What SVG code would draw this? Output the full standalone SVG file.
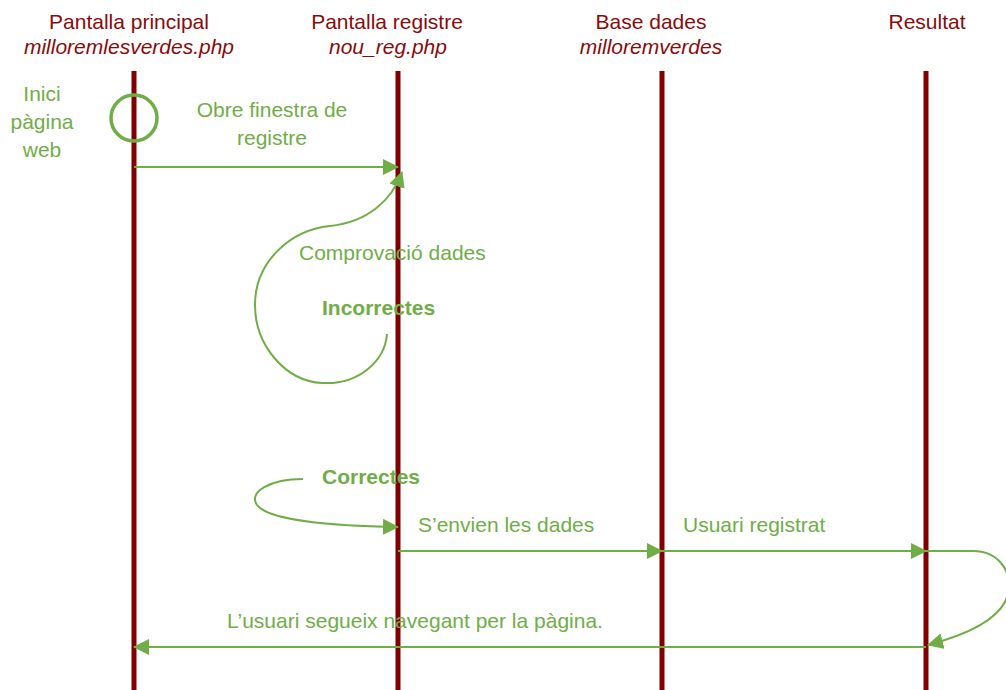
<svg xmlns="http://www.w3.org/2000/svg" width="1006" height="690" viewBox="0 0 1006 690">
<style>
.hd{font-family:"Liberation Sans",Arial,sans-serif;font-size:21px;fill:#8b0a0a;text-anchor:middle}
.it{font-style:italic}
.gt{font-family:"Liberation Sans",Arial,sans-serif;font-size:21px;fill:#70ad47}
.b{font-weight:bold}
.life{stroke:#800000;stroke-width:5}
.con{fill:none;stroke:#70ad47;stroke-width:2}
</style>
<defs>
<marker id="ah" markerUnits="userSpaceOnUse" markerWidth="16" markerHeight="16" refX="15" refY="8" orient="auto">
<path d="M0,0 L16,8 L0,16 Z" fill="#70ad47"/>
</marker>
</defs>
<rect width="1006" height="690" fill="#fff"/>
<g id="lifeline-principal">
<line class="life" x1="134" y1="71" x2="134" y2="690"/>
<text class="hd" x="129" y="29">Pantalla principal</text>
<text class="hd it" x="129" y="54">milloremlesverdes.php</text>
</g>
<g id="lifeline-registre">
<line class="life" x1="398" y1="71" x2="398" y2="690"/>
<text class="hd" x="387" y="29">Pantalla registre</text>
<text class="hd it" x="388" y="54">nou_reg.php</text>
</g>
<g id="lifeline-bd">
<line class="life" x1="662" y1="71" x2="662" y2="690"/>
<text class="hd" x="651" y="29">Base dades</text>
<text class="hd it" x="651" y="54">milloremverdes</text>
</g>
<g id="lifeline-resultat">
<line class="life" x1="926" y1="71" x2="926" y2="690"/>
<text class="hd" x="927" y="29">Resultat</text>
</g>
<g id="start">
<circle cx="134" cy="118" r="23" fill="none" stroke="#70ad47" stroke-width="3.5"/>
<text class="gt" text-anchor="middle"><tspan x="42" y="101">Inici</tspan><tspan x="42" y="129">pàgina</tspan><tspan x="42" y="157">web</tspan></text>
</g>
<g id="connectors">
<line class="con" x1="134" y1="167" x2="398" y2="167" marker-end="url(#ah)"/>
<path class="con" d="M387,334 C385,360 360,385 322,383 C285,381 255,345 255,305 C255,262 290,230 330,226 C368,222 392,200 402,172" marker-end="url(#ah)"/>
<path class="con" d="M303,479 C270,479 248,492 257,505 C268,520 330,526 398,527" marker-end="url(#ah)"/>
<line class="con" x1="398" y1="551" x2="662" y2="551" marker-end="url(#ah)"/>
<line class="con" x1="662" y1="551" x2="926" y2="551" marker-end="url(#ah)"/>
<path class="con" d="M926,551 L973,551 C1000,551 1016,575 1006,600 C996,622 962,636 928,645" marker-end="url(#ah)"/>
<line class="con" x1="926" y1="647" x2="134" y2="647" marker-end="url(#ah)"/>
</g>
<g id="labels">
<text class="gt" text-anchor="middle"><tspan x="272" y="117">Obre finestra de</tspan><tspan x="272" y="145">registre</tspan></text>
<text class="gt" x="299" y="260">Comprovació dades</text>
<text class="gt b" x="322" y="315">Incorrectes</text>
<text class="gt b" x="322" y="484">Correctes</text>
<text class="gt" x="418" y="532">S’envien les dades</text>
<text class="gt" x="683" y="532">Usuari registrat</text>
<text class="gt" x="227" y="628">L’usuari segueix navegant per la pàgina.</text>
</g>
</svg>
